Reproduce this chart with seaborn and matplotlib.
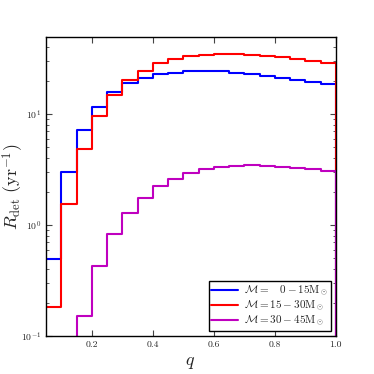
import numpy as np
import pandas as pd
import matplotlib
matplotlib.use("Agg")
import matplotlib.pyplot as plt
import seaborn as sns

# bin edges in q and detection rates per bin (yr^-1)
q_edges = np.round(np.arange(0.05, 1.0001, 0.05), 2)
rate_low = [0.49, 3.0, 7.2, 11.6, 15.7, 18.9, 21.2, 22.8, 23.6, 24.3,
            24.5, 24.5, 23.6, 22.9, 22.0, 21.2, 20.2, 19.5, 18.6]
rate_mid = [0.184, 1.55, 4.84, 9.6, 14.9, 20.2, 24.5, 28.6, 31.1, 33.3,
            34.3, 34.8, 34.8, 34.3, 33.6, 32.4, 31.3, 30.0, 28.6]
rate_high = [0.03, 0.06, 0.152, 0.427, 0.824, 1.29, 1.77, 2.24, 2.61, 2.94,
             3.18, 3.35, 3.42, 3.45, 3.42, 3.35, 3.28, 3.18, 3.05]
labels = [r"$\mathcal{M} =\ \ \ 0-15{\rm M}_\odot$",
          r"$\mathcal{M} = 15-30{\rm M}_\odot$",
          r"$\mathcal{M} = 30-45{\rm M}_\odot$"]
colors = ["#0000ff", "#ff0000", "#bf00bf"]

sns.set_style("ticks")
plt.rcParams["font.family"] = ["serif"]
plt.rcParams["font.serif"] = ["cmr10", "DejaVu Serif"]
plt.rcParams["mathtext.fontset"] = "cm"
plt.rcParams["axes.formatter.use_mathtext"] = True
plt.rcParams["axes.unicode_minus"] = False

fig = plt.figure(figsize=(3.74, 3.74), dpi=100)
ax = fig.add_axes([0.123, 0.1016, 0.775, 0.7995])

centers = (q_edges[:-1] + q_edges[1:]) / 2
for vals, lab, col in zip([rate_low, rate_mid, rate_high], labels, colors):
    df = pd.DataFrame({"q": centers, "rate": vals})
    sns.histplot(data=df, x="q", weights="rate", bins=len(centers),
                 binrange=(q_edges[0], q_edges[-1]), element="step",
                 fill=False, color=col, linewidth=1.5, label=lab, ax=ax)
    # drop to the axis at the last bin edge like a step histogram
    ax.vlines(q_edges[-1], 1e-3, vals[-1], color=col, linewidth=1.5)

ax.set_yscale("log")
ax.set_xlim(0.05, 1.0)
ax.set_ylim(0.1, 49.5)
ax.set_xticks([0.2, 0.4, 0.6, 0.8, 1.0])
ax.set_xticklabels(["0.2", "0.4", "0.6", "0.8", "1.0"])
ax.tick_params(which="both", direction="in", top=True, right=True, labelsize=7, color="#444444")
ax.tick_params(which="major", length=4)
ax.tick_params(which="minor", length=2)
for s in ax.spines.values():
    s.set_linewidth(1.0)
    s.set_color("black")

ax.set_xlabel(r"$q$", fontsize=13)
ax.set_ylabel(r"$R_{\rm det}\ ({\rm yr}^{-1})$", fontsize=13)
ax.yaxis.set_label_coords(-0.068, 0.5)
ax.xaxis.set_label_coords(0.497, -0.065)

leg = ax.legend(loc="lower right", fontsize=8, frameon=True, fancybox=False,
                edgecolor="black", framealpha=1, handlelength=2.4,
                borderpad=0.25, labelspacing=0.05, handletextpad=0.5,
                borderaxespad=0.45)
leg.get_frame().set_linewidth(1.0)

fig.savefig("out.png", dpi=100)
